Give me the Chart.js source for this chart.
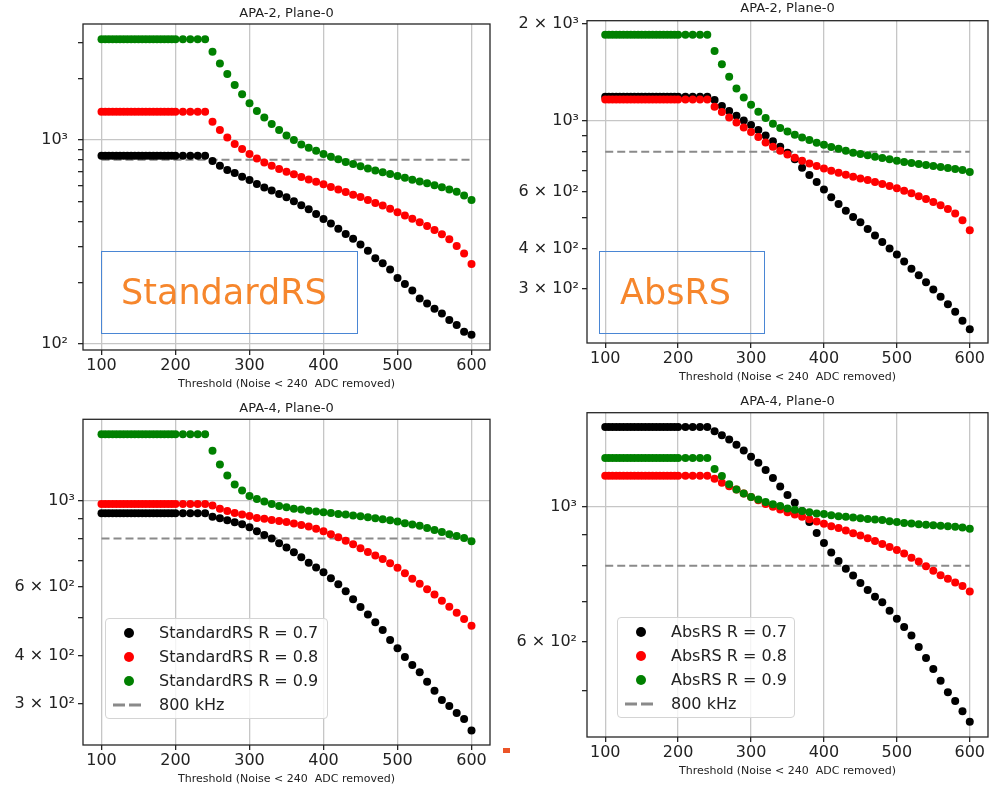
<!DOCTYPE html>
<html>
<head>
<meta charset="utf-8">
<script src="https://cdn.jsdelivr.net/npm/chart.js@4.4.1/dist/chart.umd.min.js"></script>
<style>
  html, body { margin: 0; padding: 0; background: #fff; width: 989px; height: 785px; overflow: hidden; }
  body { position: relative; font-family: 'DejaVu Sans', sans-serif; }
  .panel { position: absolute; }
  .tag { position: absolute; box-sizing: border-box; border: 1.5px solid #4a86d4; }
  .tag span { position: absolute; color: #f6862c; font-size: 35px; line-height: 35px; white-space: nowrap; }
  .legend { position: absolute; box-sizing: border-box; background: rgba(255,255,255,0.8);
            border: 1px solid #d4d4d4; border-radius: 4px; }
  .legend .row { position: absolute; left: 0; height: 24px; width: 100%; }
  .legend .dot { position: absolute; width: 10px; height: 10px; border-radius: 50%; top: 7px; }
  .legend svg { position: absolute; top: 10px; }
  .legend .txt { position: absolute; top: 2px; font-size: 16px; line-height: 20px; color: #222; white-space: nowrap; }
  .mark { position: absolute; left: 503px; top: 748px; width: 7px; height: 5px; background: #ec5428; }
</style>
</head>
<body>
<script>
// thresholds scanned (ADC counts); dense below 200, every 10 above
const thresholds = [100, 105, 110, 115, 120, 125, 130, 135, 140, 145, 150, 155, 160, 165, 170, 175, 180, 185, 190, 195, 200,
  210, 220, 230, 240, 250, 260, 270, 280, 290, 300, 310, 320, 330, 340, 350, 360, 370, 380, 390, 400,
  410, 420, 430, 440, 450, 460, 470, 480, 490, 500, 510, 520, 530, 540, 550, 560, 570, 580, 590, 600];
const tailStart = 250;   // below this the rate is flat (noise cut at 240)
const rValues = ['0.7', '0.8', '0.9'];
const seriesColors = ['#000000', '#ff0000', '#008000'];
const refRate = 800;     // 800 kHz budget
const xTicks = [100, 200, 300, 400, 500, 600];

// APA-2, StandardRS  (flat level, then tail from 250 to 600)
const apa2StdPlateau = [838, 1376, 3118];
const apa2Std07 = [789, 749, 713, 689, 661, 637, 609, 586, 565, 544, 524, 501, 479, 458, 434, 410, 390, 367,
  346, 328, 308, 287, 263, 249, 232, 211, 197, 183, 167, 158, 149, 141, 131, 124, 115, 111];
const apa2Std08 = [1230, 1119, 1030, 956, 903, 854, 813, 777, 749, 721, 700, 679, 659, 641, 625, 607, 589, 573,
  556, 540, 526, 508, 491, 477, 461, 443, 427, 411, 395, 379, 362, 345, 326, 302, 278, 247];
const apa2Std09 = [2710, 2375, 2108, 1862, 1675, 1513, 1387, 1291, 1198, 1119, 1054, 1000, 952, 917, 887, 854, 829, 804,
  780, 763, 743, 726, 710, 695, 681, 666, 654, 639, 627, 614, 600, 587, 573, 558, 535, 508];

// APA-2, AbsRS
const apa2AbsPlateau = [1188, 1165, 1854];
const apa2Abs07 = [1160, 1111, 1072, 1036, 1002, 969, 935, 900, 863, 830, 795, 758, 714, 677, 644, 611, 577, 550,
  524, 501, 483, 460, 439, 419, 400, 383, 364, 346, 330, 314, 298, 283, 268, 254, 238, 224];
const apa2Abs08 = [1105, 1064, 1024, 988, 953, 922, 890, 856, 830, 806, 785, 767, 751, 736, 722, 710, 698, 689,
  679, 669, 661, 653, 644, 635, 626, 616, 605, 594, 582, 570, 558, 545, 531, 514, 490, 456];
const apa2Abs09 = [1648, 1498, 1371, 1261, 1182, 1122, 1067, 1019, 979, 949, 926, 904, 887, 871, 854, 842, 828, 818,
  806, 795, 787, 780, 772, 765, 758, 751, 743, 738, 733, 728, 722, 717, 712, 707, 702, 692];

// APA-4, StandardRS
const apa4StdPlateau = [929, 982, 1485];
const apa4Std07 = [911, 902, 892, 881, 871, 855, 835, 817, 800, 778, 758, 738, 716, 693, 674, 655, 632, 610,
  585, 558, 533, 510, 487, 465, 438, 417, 396, 378, 362, 342, 324, 307, 296, 284, 274, 256];
const apa4Std08 = [973, 955, 942, 931, 922, 915, 904, 899, 893, 888, 883, 874, 867, 859, 848, 835, 821, 806,
  790, 773, 755, 739, 723, 708, 691, 673, 651, 630, 612, 592, 574, 553, 534, 515, 496, 477];
const apa4Std09 = [1346, 1241, 1162, 1102, 1063, 1030, 1012, 996, 982, 971, 963, 955, 950, 944, 939, 935, 931, 926,
  922, 917, 913, 908, 902, 897, 892, 885, 876, 869, 863, 852, 842, 832, 821, 812, 803, 787];

// APA-4, AbsRS
const apa4AbsPlateau = [1352, 1124, 1202];
const apa4Abs07 = [1330, 1311, 1290, 1264, 1237, 1208, 1181, 1149, 1115, 1080, 1046, 1015, 984, 944, 906, 872, 841, 815,
  791, 771, 750, 730, 712, 697, 675, 655, 635, 615, 589, 565, 542, 518, 496, 480, 462, 444];
const apa4Abs08 = [1112, 1095, 1081, 1068, 1052, 1038, 1025, 1011, 1000, 990, 980, 971, 963, 954, 946, 938, 929, 923,
  914, 905, 897, 888, 879, 869, 859, 849, 838, 825, 813, 799, 785, 772, 762, 751, 741, 726];
const apa4Abs09 = [1154, 1123, 1089, 1068, 1052, 1038, 1028, 1018, 1010, 1003, 994, 989, 984, 980, 975, 973, 969, 965,
  963, 960, 958, 955, 953, 951, 947, 944, 941, 939, 936, 934, 933, 931, 929, 927, 925, 920];

// y tick positions and their labels (empty label = minor tick)
const apa2StdYTicks = [100, 200, 300, 400, 500, 600, 700, 800, 900, 1000, 2000, 3000];
const apa2StdYLabels = ['10²', '', '', '', '', '', '', '', '', '10³', '', ''];
const apa2AbsYTicks = [300, 400, 500, 600, 700, 800, 900, 1000, 2000];
const apa2AbsYLabels = ['3 × 10²', '4 × 10²', '', '6 × 10²', '', '', '', '10³', '2 × 10³'];
const apa4StdYTicks = [300, 400, 500, 600, 700, 800, 900, 1000];
const apa4StdYLabels = ['3 × 10²', '4 × 10²', '', '6 × 10²', '', '', '', '10³'];
const apa4AbsYTicks = [500, 600, 700, 800, 900, 1000];
const apa4AbsYLabels = ['', '6 × 10²', '', '', '', '10³'];

const xTitle = 'Threshold (Noise < 240  ADC removed)';

Chart.defaults.font.family = "'DejaVu Sans', sans-serif";
Chart.defaults.color = '#222';

// black box around the axes
const framePlugin = {
  id: 'frame',
  afterDatasetsDraw(chart) {
    const a = chart.chartArea, ctx = chart.ctx;
    ctx.save();
    ctx.strokeStyle = '#262626';
    ctx.lineWidth = 1.3;
    ctx.strokeRect(a.left, a.top, a.right - a.left, a.bottom - a.top);
    ctx.restore();
  }
};

function seriesPoints(plateau, tail) {
  return thresholds.map(t => ({
    x: t,
    y: t < tailStart ? plateau : tail[(t - tailStart) / 10]
  }));
}

function makePanel(p) {
  const box = document.createElement('div');
  box.className = 'panel';
  box.style.left = p.left + 'px';
  box.style.top = p.top + 'px';
  const canvas = document.createElement('canvas');
  canvas.width = p.width;
  canvas.height = p.height;
  canvas.style.width = p.width + 'px';
  canvas.style.height = p.height + 'px';
  box.appendChild(canvas);
  document.body.appendChild(box);

  const datasets = p.tails.map((tail, i) => ({
    label: p.method + ' R = ' + rValues[i],
    data: seriesPoints(p.plateau[i], tail),
    backgroundColor: seriesColors[i],
    borderWidth: 0,
    pointRadius: 4,
    order: 3 - i
  }));
  datasets.push({
    label: '800 kHz',
    data: [{ x: 100, y: refRate }, { x: 600, y: refRate }],
    showLine: true,
    borderColor: '#8a8a8a',
    borderWidth: 2,
    borderDash: [8, 4],
    pointRadius: 0,
    order: 10
  });

  const majors = new Set([100, 1000]);

  new Chart(canvas, {
    type: 'scatter',
    data: { datasets },
    options: {
      responsive: false,
      animation: false,
      events: [],
      layout: { padding: { left: 0, right: p.padRight, top: 0, bottom: 0 } },
      plugins: {
        legend: { display: false },
        tooltip: { enabled: false },
        title: {
          display: true, text: p.title, fullSize: false, color: '#222',
          font: { size: 13, weight: 'normal' },
          padding: { top: p.titleTop, bottom: p.titleBottom }
        }
      },
      scales: {
        x: {
          type: 'linear', min: 75, max: 625,
          afterBuildTicks: s => { s.ticks = xTicks.map(v => ({ value: v })); },
          afterFit: s => { s.height = 42; },
          border: { display: false },
          grid: { color: '#c6c6c6', lineWidth: 1.3, tickColor: '#262626', tickLength: 5 },
          ticks: { font: { size: 16 }, color: '#222', padding: 1, maxRotation: 0, autoSkip: false },
          title: { display: true, text: xTitle, color: '#222', font: { size: 11 }, padding: { top: 0, bottom: 1 } }
        },
        y: {
          type: 'logarithmic', min: p.yMin, max: p.yMax,
          afterBuildTicks: s => { s.ticks = p.yTicks.map(v => ({ value: v })); },
          afterFit: s => { s.width = p.yWidth; },
          border: { display: false },
          grid: {
            color: c => (c.tick && majors.has(c.tick.value)) ? '#c6c6c6' : 'rgba(0,0,0,0)',
            lineWidth: 1.3, tickColor: '#262626', tickLength: 5
          },
          ticks: {
            font: { size: 16 }, color: '#222', padding: p.yPad, autoSkip: false,
            callback: (v, i) => p.yLabels[i]
          }
        }
      }
    },
    plugins: [framePlugin]
  });
  return datasets;
}

function makeLegend(datasets, left, top, width, markerX, textX) {
  const lg = document.createElement('div');
  lg.className = 'legend';
  lg.style.left = left + 'px';
  lg.style.top = top + 'px';
  lg.style.width = width + 'px';
  lg.style.height = '101px';
  datasets.forEach((ds, r) => {
    const row = document.createElement('div');
    row.className = 'row';
    row.style.top = (2 + r * 24) + 'px';
    if (ds.showLine) {
      row.innerHTML = '<svg width="32" height="4" style="left:' + (markerX - 16) + 'px">' +
        '<line x1="0" y1="2" x2="32" y2="2" stroke="#8a8a8a" stroke-width="3" stroke-dasharray="12,4"/></svg>';
    } else {
      const dot = document.createElement('div');
      dot.className = 'dot';
      dot.style.left = (markerX - 5) + 'px';
      dot.style.background = ds.backgroundColor;
      row.appendChild(dot);
    }
    const txt = document.createElement('div');
    txt.className = 'txt';
    txt.style.left = textX + 'px';
    txt.textContent = ds.label;
    row.appendChild(txt);
    lg.appendChild(row);
  });
  document.body.appendChild(lg);
}

function makeTag(text, left, top, width, height, textLeft) {
  const t = document.createElement('div');
  t.className = 'tag';
  t.style.left = left + 'px';
  t.style.top = top + 'px';
  t.style.width = width + 'px';
  t.style.height = height + 'px';
  const s = document.createElement('span');
  s.textContent = text;
  s.style.left = textLeft + 'px';
  s.style.top = '23px';
  t.appendChild(s);
  document.body.appendChild(t);
}

makePanel({
  title: 'APA-2, Plane-0', method: 'StandardRS', left: 0, top: 0, width: 495, height: 392, padRight: 5,
  titleTop: 5.5, titleBottom: 2.9, yWidth: 83, yPad: 10, yMin: 93.5, yMax: 3705,
  yTicks: apa2StdYTicks, yLabels: apa2StdYLabels,
  plateau: apa2StdPlateau, tails: [apa2Std07, apa2Std08, apa2Std09]
});
makePanel({
  title: 'APA-2, Plane-0', method: 'AbsRS', left: 490, top: 0, width: 502, height: 385, padRight: 0,
  titleTop: 1.2, titleBottom: 3.9, yWidth: 97, yPad: 3, yMin: 203, yMax: 2049,
  yTicks: apa2AbsYTicks, yLabels: apa2AbsYLabels,
  plateau: apa2AbsPlateau, tails: [apa2Abs07, apa2Abs08, apa2Abs09]
});
const stdSets = makePanel({
  title: 'APA-4, Plane-0', method: 'StandardRS', left: 0, top: 395, width: 495, height: 392, padRight: 5,
  titleTop: 5.5, titleBottom: 3.2, yWidth: 83, yPad: 3, yMin: 235, yMax: 1623,
  yTicks: apa4StdYTicks, yLabels: apa4StdYLabels,
  plateau: apa4StdPlateau, tails: [apa4Std07, apa4Std08, apa4Std09]
});
const absSets = makePanel({
  title: 'APA-4, Plane-0', method: 'AbsRS', left: 490, top: 390, width: 502, height: 389, padRight: 0,
  titleTop: 3.9, titleBottom: 3.2, yWidth: 97, yPad: 5, yMin: 419, yMax: 1427,
  yTicks: apa4AbsYTicks, yLabels: apa4AbsYLabels,
  plateau: apa4AbsPlateau, tails: [apa4Abs07, apa4Abs08, apa4Abs09]
});

makeLegend(stdSets, 105, 618, 223, 23, 53);
makeLegend(absSets, 617, 617, 178, 23, 53);

makeTag('StandardRS', 101, 251, 257, 83, 19);
makeTag('AbsRS', 599, 251, 166, 83, 20);

const mark = document.createElement('div');
mark.className = 'mark';
document.body.appendChild(mark);
</script>
</body>
</html>
